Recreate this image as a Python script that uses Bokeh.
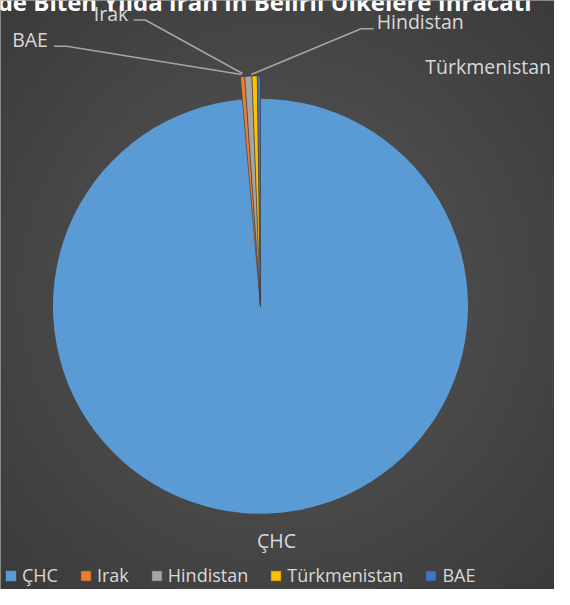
import numpy as np
from bokeh.plotting import figure
from bokeh.models import Range1d, Label, Legend, LegendItem, ColumnDataSource
from bokeh.embed import file_html
from bokeh.resources import INLINE

# ---- data ----
countries = ["ÇHC", "Irak", "Hindistan", "Türkmenistan", "BAE"]
shares = [98.6, 0.30, 0.50, 0.37, 0.22]
colors = ["#5b9bd5", "#ed7d31", "#a5a5a5", "#ffc000", "#4472c4"]
title_text = "Mart 2020'de Biten Yılda İran'ın Belirli Ülkelere İhracatı"

# ---- layout (reference design space, y measured from top) ----
W, H = 570, 605
def Y(y):
    return H - y

FONT = "Open Sans"
LABEL_COLOR = "#d9d9d9"

p = figure(width=554, height=589, x_range=Range1d(0, W), y_range=Range1d(0, H),
           output_backend="svg", toolbar_location=None, min_border=0)
p.axis.visible = False
p.grid.visible = False
p.outline_line_color = None
p.background_fill_color = "#474747"
p.border_fill_color = "#474747"

# background radial gradient
nx, ny = 114, 121
gx, gy = np.meshgrid(np.linspace(0, W, nx), np.linspace(0, H, ny))
d = np.sqrt(((gx - 285) / 420) ** 2 + ((gy - Y(300)) / 440) ** 2)
d = np.clip(d, 0, 1)
c_in, c_out = np.array([0x58, 0x58, 0x58]), np.array([0x3a, 0x3a, 0x3a])
col = c_in[None, None, :] * (1 - d[..., None]) + c_out[None, None, :] * d[..., None]
img = np.empty((ny, nx), dtype=np.uint32)
view = img.view(dtype=np.uint8).reshape((ny, nx, 4))
view[..., 0] = col[..., 0].astype(np.uint8)
view[..., 1] = col[..., 1].astype(np.uint8)
view[..., 2] = col[..., 2].astype(np.uint8)
view[..., 3] = 255
p.image_rgba(image=[img], x=0, y=0, dw=W, dh=H)

# ---- pie ----
cx, cy = 267.5, Y(314)
r_main, r_small = 213.5, 237.0
frac = np.array(shares) / sum(shares)
cum = np.concatenate([[0.0], np.cumsum(frac)])
start = np.pi / 2 - 2 * np.pi * cum[1:]
end = np.pi / 2 - 2 * np.pi * cum[:-1]

legend_items = []
for i, name in enumerate(countries):
    src = ColumnDataSource(dict(x=[cx], y=[cy], s=[start[i]], e=[end[i]]))
    r = p.wedge(x="x", y="y", radius=r_main if i == 0 else r_small,
                start_angle="s", end_angle="e", source=src,
                fill_color=colors[i], line_color="#3a3a3a",
                line_width=0.8, line_alpha=0.0 if i == 0 else 0.7)
    legend_items.append(LegendItem(label=name, renderers=[r]))

# ---- leader lines ----
lc = "#a6a6a6"
p.line([137, 149, 249], [Y(20), Y(20), Y(75)], line_color=lc, line_width=1.5)
p.line([55, 68, 248], [Y(47), Y(47), Y(76)], line_color=lc, line_width=1.5)
p.line([384, 371, 258], [Y(29), Y(29), Y(76)], line_color=lc, line_width=1.5)

# ---- data labels ----
def lab(x, y, t, align="left"):
    p.add_layout(Label(x=x, y=Y(y), text=t, text_font=FONT, text_font_size="19.5px",
                       text_color=LABEL_COLOR, text_baseline="alphabetic", text_align=align))

lab(96, 13, countries[1])
lab(12, 40, countries[4])
lab(387, 22, countries[2])
lab(437, 68, countries[3])
lab(284, 555, countries[0], "center")

# ---- title (partly outside the top edge, as in the reference) ----
p.add_layout(Label(x=-132.5, y=Y(1), text=title_text, text_font=FONT, text_font_size="24px",
                   text_font_style="bold", text_color="#ffffff", text_baseline="alphabetic"))

# ---- legend ----
legend = Legend(items=legend_items, orientation="horizontal", location=(4, 2),
                glyph_width=13, glyph_height=13, label_text_font=FONT,
                label_text_font_size="18px", label_text_color=LABEL_COLOR,
                spacing=21, label_standoff=5, padding=0, margin=0,
                background_fill_alpha=0, border_line_alpha=0)
p.add_layout(legend)

open("out.html", "w").write(file_html(p, INLINE))
